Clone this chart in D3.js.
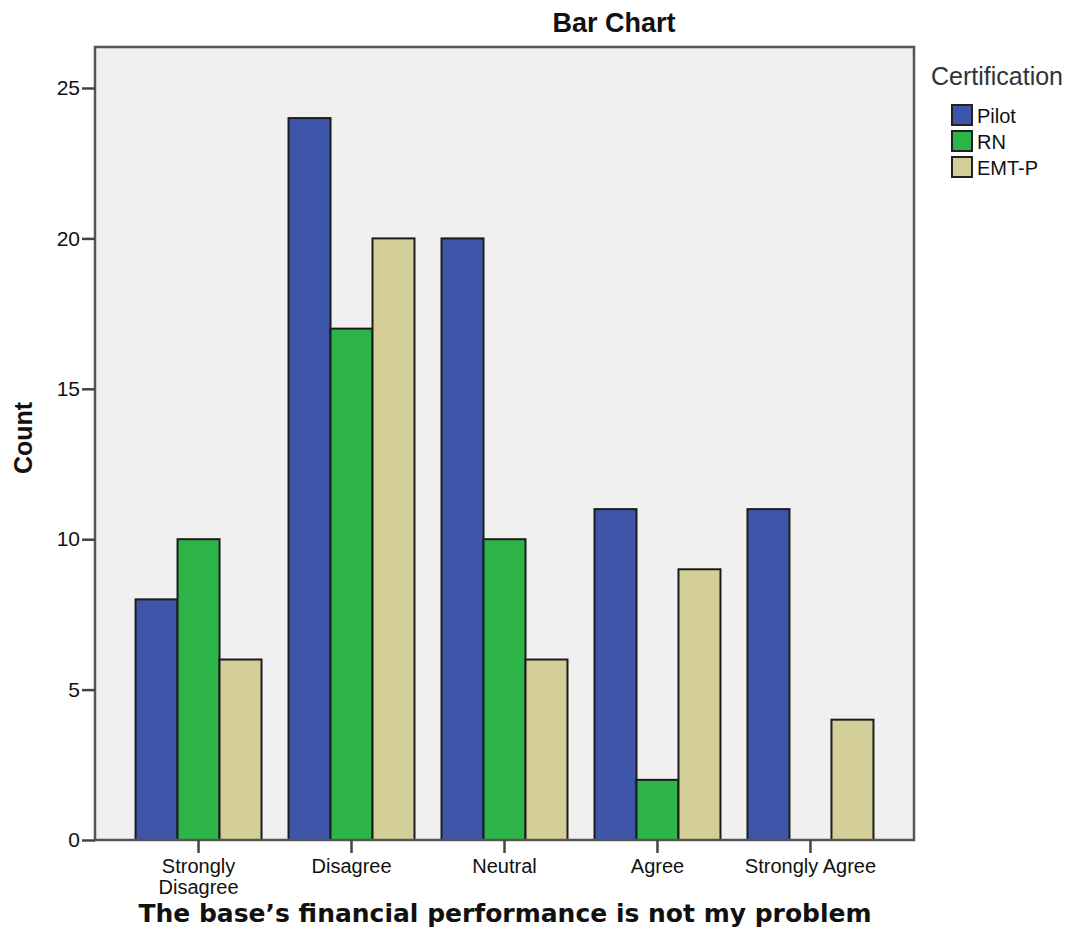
<!DOCTYPE html>
<html>
<head>
<meta charset="utf-8">
<script src="https://cdnjs.cloudflare.com/ajax/libs/d3/7.8.5/d3.min.js"></script>
<style>
  body { margin: 0; background: #fff; }
  svg { display: block; font-family: "Liberation Sans", Arial, sans-serif; }
</style>
</head>
<body>
<svg id="chart"></svg>
<script>
  // data
  let categories = ['Strongly Disagree', 'Disagree', 'Neutral', 'Agree', 'Strongly Agree']
  let seriesNames = ['Pilot', 'RN', 'EMT-P']
  let pilotCounts = [8, 24, 20, 11, 11]
  let rnCounts = [10, 17, 10, 2, 0]
  let emtCounts = [6, 20, 6, 9, 4]
  let yTicks = [0, 5, 10, 15, 20, 25]
  let colors = ['#3d56a9', '#2eb54a', '#d4cf99']

  let width = 1070
  let height = 951
  let plot = { left: 95, right: 914, top: 47, bottom: 840 }

  let series = [pilotCounts, rnCounts, emtCounts]
  let rows = []
  categories.forEach((c, i) => {
    seriesNames.forEach((s, j) => rows.push({ cat: c, name: s, value: series[j][i] }))
  })

  let svg = d3.select('#chart')
    .attr('width', width)
    .attr('height', height)

  /* scales */
  let x0 = d3.scaleBand()
    .domain(categories)
    .range([plot.left, plot.right])
    .paddingInner(0.1765)
    .paddingOuter(0.265)

  let x1 = d3.scaleBand()
    .domain(seriesNames)
    .range([0, x0.bandwidth()])

  let y = d3.scaleLinear()
    .domain([0, 25])
    .range([plot.bottom, 88])

  let color = d3.scaleOrdinal()
    .domain(seriesNames)
    .range(colors)

  /* plot background */
  svg.append('rect')
    .attr('x', plot.left)
    .attr('y', plot.top)
    .attr('width', plot.right - plot.left)
    .attr('height', plot.bottom - plot.top)
    .attr('fill', '#f0f0f0')

  /* bars */
  svg.append('g')
    .selectAll('rect')
    .data(rows.filter(d => d.value > 0))
    .enter()
    .append('rect')
      .attr('x', d => x0(d.cat) + x1(d.name))
      .attr('y', d => y(d.value))
      .attr('width', x1.bandwidth())
      .attr('height', d => y(0) - y(d.value))
      .attr('fill', d => color(d.name))
      .attr('stroke', '#1c1c1c')
      .attr('stroke-width', 2)

  /* frame */
  svg.append('rect')
    .attr('x', plot.left)
    .attr('y', plot.top)
    .attr('width', plot.right - plot.left)
    .attr('height', plot.bottom - plot.top)
    .attr('fill', 'none')
    .attr('stroke', '#555')
    .attr('stroke-width', 2.5)

  /* y axis */
  let yAxis = d3.axisLeft(y)
    .tickValues(yTicks)
    .tickSize(13)
    .tickPadding(2)
    .tickSizeOuter(0)

  let gy = svg.append('g')
    .attr('transform', `translate(${plot.left}, 0)`)
    .call(yAxis)
  gy.select('.domain').remove()
  gy.selectAll('line').attr('stroke', '#444').attr('stroke-width', 2.5)
  gy.selectAll('text')
    .attr('font-size', 21)
    .attr('font-family', '"Liberation Sans", Arial, sans-serif')
    .attr('fill', '#111')

  /* x axis */
  let xAxis = d3.axisBottom(x0)
    .tickSize(13)
    .tickSizeOuter(0)

  let gx = svg.append('g')
    .attr('transform', `translate(0, ${plot.bottom})`)
    .call(xAxis)
  gx.select('.domain').remove()
  gx.selectAll('line').attr('stroke', '#444').attr('stroke-width', 2.5)
  gx.selectAll('text').remove()

  /* x tick labels, wrapped like the original */
  let wrapped = { 'Strongly Disagree': ['Strongly', 'Disagree'] }
  gx.selectAll('.tick')
    .append('text')
      .attr('fill', '#111')
      .attr('font-size', 20)
      .attr('font-family', '"Liberation Sans", Arial, sans-serif')
      .attr('text-anchor', 'middle')
      .attr('y', 33)
    .selectAll('tspan')
    .data(d => wrapped[d] || [d])
    .enter()
    .append('tspan')
      .attr('x', 0)
      .attr('dy', (d, i) => i === 0 ? 0 : 21)
      .text(d => d)

  /* chart title */
  svg.append('text')
    .attr('x', 614)
    .attr('y', 32)
    .attr('text-anchor', 'middle')
    .attr('font-size', 27)
    .attr('font-weight', 'bold')
    .attr('fill', '#111')
    .text('Bar Chart')

  /* y axis label */
  svg.append('text')
    .attr('transform', 'rotate(-90)')
    .attr('x', -438)
    .attr('y', 32)
    .attr('text-anchor', 'middle')
    .attr('font-size', 25)
    .attr('font-weight', 'bold')
    .attr('fill', '#111')
    .text('Count')

  /* x axis label */
  svg.append('text')
    .attr('x', 505)
    .attr('y', 922)
    .attr('text-anchor', 'middle')
    .attr('font-family', '"DejaVu Sans", Verdana, sans-serif')
    .attr('font-size', 25)
    .attr('font-weight', 'bold')
    .attr('fill', '#111')
    .text('The base\u2019s financial performance is not my problem')

  /* legend */
  let legend = svg.append('g')
  legend.append('text')
    .attr('x', 931)
    .attr('y', 85)
    .attr('font-size', 25)
    .attr('fill', '#333')
    .text('Certification')

  let items = legend.selectAll('.item')
    .data(seriesNames)
    .enter()
    .append('g')
      .attr('class', 'item')
      .attr('transform', (d, i) => `translate(952, ${105 + i * 26})`)

  items.append('rect')
    .attr('width', 20)
    .attr('height', 20)
    .attr('fill', d => color(d))
    .attr('stroke', '#222')
    .attr('stroke-width', 2)

  items.append('text')
    .attr('x', 25)
    .attr('y', 18)
    .attr('font-size', 20)
    .attr('fill', '#111')
    .text(d => d)
</script>
</body>
</html>
